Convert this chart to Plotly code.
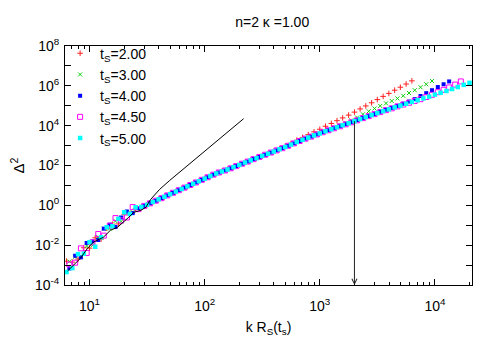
import math
import plotly.graph_objects as go

# ---------------- data ----------------
k_grid_a = [6.31, 7.08, 7.94, 8.91, 10.0, 11.2, 12.6, 14.1, 15.8, 17.8, 20.0, 22.4, 25.1, 28.2,
            31.6, 35.5, 39.8, 44.7, 50.1, 56.2, 63.1, 70.8, 79.4, 89.1, 100, 112, 126, 141, 158,
            178, 200, 224, 251, 282, 316, 355, 398, 447, 501, 562, 631, 708, 794, 891, 1000,
            1120, 1260, 1410, 1580, 1780, 2000, 2240, 2510, 2820, 3160, 3550, 3980, 4470, 5010,
            5620, 6310, 7080, 7940, 8910, 10000, 11200, 12600, 14100, 15800, 17800, 20000]
k_grid_b = [6.68, 7.50, 8.41, 9.44, 10.6, 11.9, 13.3, 15.0, 16.8, 18.8, 21.1, 23.7, 26.6, 29.9,
            33.5, 37.6, 42.2, 47.3, 53.1, 59.6, 66.8, 75.0, 84.1, 94.4, 106, 119, 133, 150, 168,
            188, 211, 237, 266, 299, 335, 376, 422, 473, 531, 596, 668, 750, 841, 944, 1060,
            1190, 1330, 1500, 1680, 1880, 2110, 2370, 2660, 2990, 3350, 3760, 4220, 4730, 5310,
            5960, 6680, 7500, 8410, 9440, 10600, 11900, 13300, 15000, 16800, 18800]

k_ts2 = k_grid_a[:61]
d2_ts2 = [1.58e-3, 1.41e-3, 2.00e-3, 7.41e-3, 7.08e-3, 2.34e-2, 2.00e-2, 7.08e-2, 0.112, 0.117,
          0.355, 0.372, 0.708, 0.832, 1.07, 1.48, 2.00, 2.69, 3.63, 4.90, 6.61, 8.91, 12.0, 16.2,
          21.9, 29.5, 39.8, 50.1, 63.1, 83.2, 107, 141, 182, 234, 302, 389, 501, 692, 933, 1290,
          1860, 2570, 3550, 4900, 6610, 9330, 1.29e4, 1.78e4, 2.45e4, 3.39e4, 4.79e4, 6.92e4,
          9.77e4, 1.41e5, 2.04e5, 2.95e5, 4.17e5, 6.03e5, 8.51e5, 1.23e6, 1.78e6]

k_ts3 = k_grid_b[:64]
d2_ts3 = [1.51e-3, 2.63e-3, 2.75e-3, 9.12e-3, 9.77e-3, 2.57e-2, 6.76e-2, 6.76e-2, 0.162, 0.155,
          0.437, 0.457, 0.813, 0.933, 1.26, 1.70, 2.29, 3.16, 4.27, 5.75, 7.76, 10.5, 14.1, 19.1,
          25.7, 34.7, 44.7, 56.2, 72.4, 93.3, 123, 158, 209, 269, 347, 447, 575, 741, 977, 1290,
          1700, 2240, 2820, 3630, 4680, 5890, 7410, 1.00e4, 1.35e4, 1.86e4, 2.57e4, 3.72e4,
          5.25e4, 7.24e4, 9.77e4, 1.32e5, 1.74e5, 2.34e5, 3.16e5, 4.37e5, 6.03e5, 8.51e5,
          1.20e6, 1.74e6]

k_ts4 = k_grid_b[:67]
d2_ts4 = [6.76e-4, 2.95e-3, 2.45e-3, 1.29e-2, 1.55e-2, 1.82e-2, 6.76e-2, 0.107, 8.13e-2, 0.245,
          0.490, 0.407, 0.724, 0.933, 1.26, 1.70, 2.29, 3.16, 4.27, 5.75, 7.76, 10.5, 14.1, 19.1,
          25.7, 34.7, 44.7, 56.2, 72.4, 93.3, 123, 158, 209, 269, 347, 447, 575, 741, 977, 1290,
          1700, 2240, 2820, 3630, 4680, 5890, 7410, 9330, 1.17e4, 1.48e4, 1.86e4, 2.40e4, 3.02e4,
          3.80e4, 5.01e4, 6.31e4, 7.76e4, 9.77e4, 1.26e5, 1.62e5, 2.14e5, 3.09e5, 4.27e5, 6.03e5,
          8.71e5, 1.20e6, 1.66e6]

k_ts45 = k_grid_b[:69]
d2_ts45 = [1.07e-3, 1.32e-3, 6.92e-3, 4.07e-3, 1.38e-2, 3.63e-2, 3.02e-2, 9.55e-2, 0.229, 0.174,
           0.245, 0.813, 0.646, 0.933, 1.26, 1.70, 2.29, 3.16, 4.27, 5.75, 7.76, 10.5, 14.1, 19.1,
           25.7, 34.7, 44.7, 56.2, 72.4, 93.3, 123, 158, 209, 269, 347, 447, 575, 741, 977, 1290,
           1700, 2240, 2820, 3630, 4680, 5890, 7410, 9330, 1.17e4, 1.48e4, 1.86e4, 2.40e4, 3.02e4,
           3.80e4, 4.79e4, 6.03e4, 7.41e4, 9.33e4, 1.15e5, 1.41e5, 1.74e5, 2.14e5, 2.75e5, 3.55e5,
           4.79e5, 6.31e5, 8.32e5, 1.15e6, 1.66e6]

k_ts5 = k_grid_a[:71]
d2_ts5 = [4.47e-4, 7.08e-4, 3.55e-3, 3.72e-3, 1.41e-2, 8.32e-3, 2.51e-2, 7.94e-2, 8.91e-2, 0.209,
          0.447, 0.372, 0.794, 0.832, 1.07, 1.48, 2.00, 2.69, 3.63, 4.90, 6.61, 8.91, 12.0, 16.2,
          21.9, 29.5, 39.8, 50.1, 63.1, 83.2, 107, 141, 182, 234, 302, 389, 501, 661, 851, 1120,
          1510, 1950, 2510, 3240, 4070, 5250, 6610, 8320, 1.05e4, 1.32e4, 1.66e4, 2.14e4, 2.69e4,
          3.39e4, 4.27e4, 5.37e4, 6.61e4, 8.32e4, 1.02e5, 1.26e5, 1.55e5, 1.91e5, 2.34e5, 2.88e5,
          3.63e5, 4.47e5, 5.50e5, 6.92e5, 8.71e5, 1.12e6, 1.41e6]

k_line = [6.44, 8.36, 9.62, 10.8, 13.2, 15.2, 17.5, 19.8, 21.9, 24.2, 27.9, 30.8, 34.0, 40.6, 49.7, 218]
d2_line = [5.01e-4, 2.24e-3, 7.08e-3, 1.41e-2, 2.51e-2, 5.62e-2, 7.94e-2, 0.141, 0.251, 0.447,
           0.562, 0.794, 2.00, 6.31, 17.8, 2.24e4]

arrow_k = 2000
arrow_top = 2.0e4

series_names = ["t<sub>S</sub>=2.00", "t<sub>S</sub>=3.00", "t<sub>S</sub>=4.00",
                "t<sub>S</sub>=4.50", "t<sub>S</sub>=5.00"]

x_range = [6.12, 2.1e4]
y_range = [1e-4, 1e8]
x_tick_vals = [10, 100, 1000, 10000]
x_tick_text = ["10<sup>1</sup>", "10<sup>2</sup>", "10<sup>3</sup>", "10<sup>4</sup>"]
y_label_exponents = [-4, -2, 0, 2, 4, 6, 8]
y_tick_vals = [10.0 ** e for e in y_label_exponents]
y_tick_text = ["10<sup>%d</sup>" % e for e in y_label_exponents]
y_minor = [10.0 ** e for e in [-3, -1, 1, 3, 5, 7]]
x_minor = [m * 10.0 ** d for d in range(0, 5) for m in range(2, 10)]

# ---------------- figure ----------------
fig = go.Figure()

styles = [
    dict(symbol="cross-thin-open", size=4, color="#ff2020", line=dict(width=1, color="#ff2020")),
    dict(symbol="x-thin-open", size=4, color="#10d010", line=dict(width=1, color="#10d010")),
    dict(symbol="square", size=4, color="#0000ff", line=dict(width=0)),
    dict(symbol="square-open", size=5, color="#ff00ff", line=dict(width=1, color="#ff00ff")),
    dict(symbol="square", size=4.5, color="#00ffff", line=dict(width=0)),
]
data = [(k_ts2, d2_ts2), (k_ts3, d2_ts3), (k_ts4, d2_ts4), (k_ts45, d2_ts45), (k_ts5, d2_ts5)]

for (kx, dy), st, name in zip(data, styles, series_names):
    fig.add_trace(go.Scatter(x=kx, y=dy, mode="markers", name=name, marker=st))

fig.add_trace(go.Scatter(x=k_line, y=d2_line, mode="lines", showlegend=False,
                         line=dict(color="black", width=1)))

fig.add_annotation(x=math.log10(arrow_k), y=math.log10(y_range[0]),
                   ax=math.log10(arrow_k), ay=math.log10(arrow_top),
                   xref="x", yref="y", axref="x", ayref="y", text="",
                   showarrow=True, arrowhead=5, arrowsize=1, arrowwidth=1,
                   arrowcolor="#222222", standoff=0, startstandoff=0)

axis_common = dict(showline=True, linecolor="black", linewidth=1, mirror="allticks",
                   ticks="inside", ticklen=6, tickwidth=1, tickcolor="black",
                   showgrid=False, zeroline=False, tickmode="array")

fig.update_xaxes(type="log", range=[math.log10(x_range[0]), math.log10(x_range[1])],
                 tickvals=x_tick_vals, ticktext=x_tick_text,
                 minor=dict(tickmode="array", tickvals=x_minor, ticks="inside",
                            ticklen=3, tickcolor="black"),
                 ticklabelstandoff=8,
                 title=dict(text="k R<sub>S</sub>(t<sub>s</sub>)", font=dict(size=14), standoff=9),
                 **axis_common)
fig.update_yaxes(type="log", range=[math.log10(y_range[0]), math.log10(y_range[1])],
                 tickvals=y_tick_vals, ticktext=y_tick_text,
                 minor=dict(tickmode="array", tickvals=y_minor, ticks="inside",
                            ticklen=6, tickcolor="black"),
                 ticklabelstandoff=2,
                 title=dict(text="Δ<sup>2</sup>", font=dict(size=15), standoff=6),
                 **axis_common)

# the page body adds an 8 px offset, so the figure is 492x342 and margins are shifted
fig.update_layout(
    width=492, height=342,
    margin=dict(l=57, r=28, t=38, b=65, autoexpand=False),
    plot_bgcolor="white", paper_bgcolor="white",
    font=dict(family="Liberation Sans, Arial, sans-serif", size=14, color="black"),
    title=dict(text="n=2 κ =1.00", x=0.537, xref="container", xanchor="center",
               y=1 - 14 / 342, yref="container", yanchor="middle", font=dict(size=14)),
    showlegend=True,
    legend=dict(x=-0.012, y=1.035, xanchor="left", yanchor="top", bgcolor="rgba(0,0,0,0)",
                font=dict(size=14), tracegroupgap=0, itemwidth=30),
)

fig.write_html("out.html")
